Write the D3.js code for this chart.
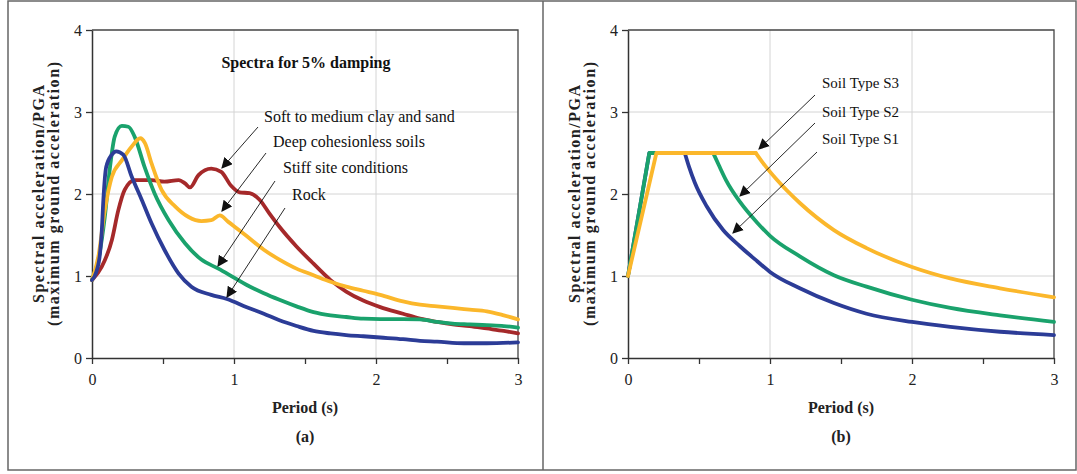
<!DOCTYPE html>
<html>
<head>
<meta charset="utf-8">
<script src="https://cdn.jsdelivr.net/npm/d3@7"></script>
<style>
  html, body { margin: 0; padding: 0; background: #fff; }
  svg { display: block; font-family: "Liberation Serif", "DejaVu Serif", serif; }
</style>
</head>
<body>
<div id="chart"></div>
<script>
// Normalised response spectra: (a) site-specific shapes, (b) code spectra.
// Each series is [period (s), Sa/PGA].

const ROCK = [[0, 0.95], [0.03, 1.05], [0.056, 1.27], [0.068, 1.52], [0.08, 1.93], [0.10, 2.33],
  [0.14, 2.48], [0.17, 2.52], [0.22, 2.48], [0.28, 2.21], [0.35, 1.93], [0.42, 1.64],
  [0.51, 1.32], [0.61, 1.03], [0.70, 0.87], [0.84, 0.77], [0.95, 0.72], [1.09, 0.62],
  [1.21, 0.54], [1.32, 0.46], [1.44, 0.39], [1.56, 0.33], [1.68, 0.30], [1.79, 0.28],
  [1.91, 0.265], [2.03, 0.25], [2.19, 0.23], [2.31, 0.21], [2.43, 0.20], [2.62, 0.18],
  [2.78, 0.18], [3.0, 0.19]];

const STIFF = [[0, 0.95], [0.045, 1.2], [0.09, 1.72], [0.127, 2.33], [0.16, 2.70], [0.21, 2.83],
  [0.256, 2.82], [0.30, 2.70], [0.37, 2.33], [0.44, 2.01], [0.54, 1.68], [0.655, 1.40],
  [0.77, 1.20], [0.89, 1.09], [1.0, 0.98], [1.09, 0.89], [1.21, 0.79], [1.32, 0.71],
  [1.44, 0.63], [1.56, 0.56], [1.68, 0.52], [1.79, 0.50], [1.91, 0.48], [2.03, 0.475],
  [2.19, 0.475], [2.31, 0.47], [2.43, 0.44], [2.54, 0.42], [2.66, 0.41], [2.78, 0.40],
  [2.90, 0.39], [3.0, 0.37]];

const DEEP = [[0, 0.95], [0.045, 1.24], [0.09, 1.80], [0.14, 2.21], [0.21, 2.41], [0.28, 2.58],
  [0.34, 2.68], [0.373, 2.62], [0.42, 2.37], [0.49, 2.05], [0.585, 1.85], [0.68, 1.72],
  [0.77, 1.67], [0.84, 1.68], [0.90, 1.74], [0.96, 1.66], [1.08, 1.50], [1.21, 1.32],
  [1.32, 1.20], [1.44, 1.09], [1.56, 1.01], [1.68, 0.93], [1.79, 0.87], [1.91, 0.82],
  [2.03, 0.77], [2.19, 0.69], [2.31, 0.65], [2.43, 0.63], [2.54, 0.61], [2.66, 0.59],
  [2.78, 0.57], [2.90, 0.52], [3.0, 0.47]];

const SOFT = [[0, 0.95], [0.068, 1.11], [0.14, 1.44], [0.185, 1.80], [0.23, 2.05], [0.30, 2.17],
  [0.42, 2.17], [0.51, 2.15], [0.61, 2.17], [0.655, 2.13], [0.69, 2.08], [0.75, 2.23],
  [0.84, 2.31], [0.91, 2.27], [0.98, 2.10], [1.04, 2.02], [1.11, 2.01], [1.18, 1.93],
  [1.25, 1.76], [1.32, 1.60], [1.44, 1.36], [1.56, 1.15], [1.68, 0.95], [1.79, 0.81],
  [1.91, 0.70], [2.03, 0.62], [2.19, 0.54], [2.31, 0.48], [2.43, 0.44], [2.54, 0.41],
  [2.66, 0.39], [2.78, 0.36], [2.90, 0.33], [3.0, 0.30]];

// code spectra: straight rise + plateau, then the descending branch
const S1_RISE = [[0, 1], [0.15, 2.5], [0.40, 2.5]];
const S1_FALL = [[0.40, 2.5], [0.43, 2.33], [0.47, 2.14], [0.554, 1.85], [0.67, 1.56], [0.79, 1.36],
  [0.91, 1.18], [1.0, 1.05], [1.21, 0.85], [1.45, 0.67], [1.68, 0.54], [2.0, 0.44],
  [2.27, 0.38], [2.62, 0.32], [3.0, 0.28]];
const S2_RISE = [[0, 1], [0.15, 2.5], [0.60, 2.5]];
const S2_FALL = [[0.60, 2.5], [0.64, 2.35], [0.69, 2.17], [0.79, 1.90], [0.91, 1.65], [1.0, 1.49],
  [1.21, 1.24], [1.45, 1.01], [1.68, 0.87], [2.0, 0.71], [2.27, 0.61], [2.62, 0.52], [3.0, 0.44]];
const S3_RISE = [[0, 1], [0.2, 2.5], [0.90, 2.5]];
const S3_FALL = [[0.90, 2.5], [0.95, 2.38], [1.05, 2.17], [1.21, 1.89], [1.45, 1.56], [1.68, 1.34],
  [2.0, 1.11], [2.27, 0.97], [2.62, 0.85], [3.0, 0.74]];

const X_TICKS = [0, 0.5, 1, 1.5, 2, 2.5, 3];
const Y_TICKS = [0, 1, 2, 3, 4];
const LABELS_A = ["Soft to medium clay and sand", "Deep cohesionless soils", "Stiff site conditions", "Rock"];
const LABELS_B = ["Soil Type S3", "Soil Type S2", "Soil Type S1"];

const BLUE = "#2c3c97";
const GREEN = "#1aa26c";
const YELLOW = "#fbb72b";
const RED = "#a5292a";

const W = 1077, H = 474;
const svg = d3.select("#chart").append("svg").attr("width", W).attr("height", H);

svg.append("defs").append("marker")
  .attr("id", "head")
  .attr("viewBox", "0 0 10 10")
  .attr("refX", 9).attr("refY", 5)
  .attr("markerWidth", 11).attr("markerHeight", 11)
  .attr("markerUnits", "userSpaceOnUse")
  .attr("orient", "auto")
  .append("path").attr("d", "M0,0 L10,5 L0,10 z").attr("fill", "#111");

// outer frame + divider
svg.append("rect").attr("x", 8).attr("y", 1).attr("width", W - 9).attr("height", 469)
  .attr("fill", "none").attr("stroke", "#666").attr("stroke-width", 1.5);
svg.append("line").attr("x1", 543).attr("x2", 543).attr("y1", 1).attr("y2", 470)
  .attr("stroke", "#666").attr("stroke-width", 1.5);

function panel(left, tag) {
  const x = d3.scaleLinear().domain([0, 3]).range([left, left + 426]);
  const y = d3.scaleLinear().domain([0, 4]).range([358, 30]);
  const g = svg.append("g");

  // grid
  g.selectAll(".gx").data([1, 2]).enter().append("line")
    .attr("x1", d => x(d)).attr("x2", d => x(d)).attr("y1", y(0)).attr("y2", y(4))
    .attr("stroke", "#d4d4d4").attr("stroke-width", 1);
  g.selectAll(".gy").data([1, 2, 3]).enter().append("line")
    .attr("x1", x(0)).attr("x2", x(3)).attr("y1", d => y(d)).attr("y2", d => y(d))
    .attr("stroke", "#d4d4d4").attr("stroke-width", 1);
  // top/right box edges
  g.append("path")
    .attr("d", `M${x(0)},${y(4)}H${x(3)}V${y(0)}`)
    .attr("fill", "none").attr("stroke", "#444").attr("stroke-width", 1.3);

  const xAxis = g.append("g").attr("transform", `translate(0,${y(0)})`)
    .call(d3.axisBottom(x).tickValues(X_TICKS).tickSize(6).tickSizeOuter(0).tickPadding(10)
      .tickFormat(d => Number.isInteger(d) ? d : ""));
  const yAxis = g.append("g").attr("transform", `translate(${x(0)},0)`)
    .call(d3.axisLeft(y).tickValues(Y_TICKS).tickSize(6).tickSizeOuter(0).tickPadding(4)
      .tickFormat(d3.format("d")));
  for (const a of [xAxis, yAxis]) {
    a.select(".domain").attr("stroke", "#333").attr("stroke-width", 1.5);
    a.selectAll(".tick line").attr("stroke", "#333").attr("stroke-width", 1.3);
    a.selectAll("text").attr("font-family", "Liberation Serif").attr("font-size", 16).attr("fill", "#222");
  }

  const cx = x(1.5);
  g.append("text").attr("x", cx).attr("y", 413).attr("text-anchor", "middle")
    .attr("font-size", 16).attr("font-weight", "bold").attr("fill", "#222").text("Period (s)");
  g.append("text").attr("x", cx).attr("y", 442).attr("text-anchor", "middle")
    .attr("font-size", 16).attr("font-weight", "bold").attr("fill", "#222").text(tag);

  const yl = g.append("text").attr("transform", `translate(${left - 48},${y(2)}) rotate(-90)`)
    .attr("text-anchor", "middle").attr("font-size", 16).attr("font-weight", "bold").attr("fill", "#222");
  yl.append("tspan").attr("x", 0).attr("dy", 0).attr("textLength", 218).attr("lengthAdjust", "spacing")
    .text("Spectral acceleration/PGA");
  yl.append("tspan").attr("x", 0).attr("dy", 15).attr("textLength", 264).attr("lengthAdjust", "spacing")
    .text("(maximum ground acceleration)");

  return { g, x, y };
}

function curve(p, data, color, shape) {
  const line = d3.line().x(d => p.x(d[0])).y(d => p.y(d[1])).curve(shape);
  p.g.append("path").attr("d", line(data)).attr("fill", "none")
    .attr("stroke", color).attr("stroke-width", 3.8)
    .attr("stroke-linejoin", "round").attr("stroke-linecap", "round");
}

function arrow(g, x1, y1, x2, y2) {
  g.append("line").attr("x1", x1).attr("y1", y1).attr("x2", x2).attr("y2", y2)
    .attr("stroke", "#111").attr("stroke-width", 0.9).attr("marker-end", "url(#head)");
}

// ---- panel (a) ----
const a = panel(92, "(a)");
curve(a, SOFT, RED, d3.curveMonotoneX);
curve(a, STIFF, GREEN, d3.curveMonotoneX);
curve(a, DEEP, YELLOW, d3.curveMonotoneX);
curve(a, ROCK, BLUE, d3.curveMonotoneX);

a.g.append("text").attr("x", 306).attr("y", 68).attr("text-anchor", "middle")
  .attr("font-size", 16).attr("font-weight", "bold").attr("fill", "#111").text("Spectra for 5% damping");

const labelA = [[264, 121.5], [273, 147], [283, 172.5], [292, 200]];
LABELS_A.forEach((t, i) => {
  a.g.append("text").attr("x", labelA[i][0]).attr("y", labelA[i][1])
    .attr("font-size", 16).attr("fill", "#111").text(t);
});
arrow(a.g, 258, 127, 222, 168);
arrow(a.g, 266, 153, 222, 211);
arrow(a.g, 275, 181, 218, 266);
arrow(a.g, 285, 208, 227, 297);

// ---- panel (b) ----
const b = panel(628, "(b)");
curve(b, S1_RISE, BLUE, d3.curveLinear);
curve(b, S1_FALL, BLUE, d3.curveMonotoneX);
curve(b, S2_RISE, GREEN, d3.curveLinear);
curve(b, S2_FALL, GREEN, d3.curveMonotoneX);
curve(b, S3_RISE, YELLOW, d3.curveLinear);
curve(b, S3_FALL, YELLOW, d3.curveMonotoneX);

const labelB = [[822, 88], [822, 116.5], [822, 144]];
LABELS_B.forEach((t, i) => {
  b.g.append("text").attr("x", labelB[i][0]).attr("y", labelB[i][1])
    .attr("font-size", 15).attr("fill", "#111").text(t);
});
arrow(b.g, 815, 95, 759, 149);
arrow(b.g, 815, 123, 740, 196);
arrow(b.g, 817, 152, 733, 233);
</script>
</body>
</html>
